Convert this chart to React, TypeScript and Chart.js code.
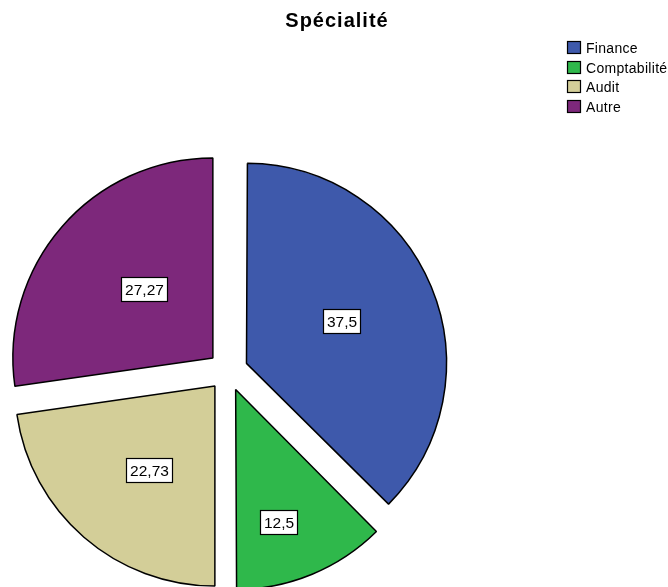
import React, { useEffect, useRef } from "react";
import { Chart, registerables } from "chart.js";

Chart.register(...registerables);

const chartTitle = "Spécialité";
const categories = ["Finance", "Comptabilité", "Audit", "Autre"];
const values = [37.5, 12.5, 22.73, 27.27];
const sliceColors = ["#3e59ab", "#2fb84b", "#d3ce98", "#7d287b"];
// label placement per slice: [fraction of radius, angle shift in degrees]
const labelPlacement = [
  [0.52, -1.4],
  [0.695, 4.6],
  [0.535, -2.6],
  [0.487, 3.9],
];

const EXPLODE = 80; // Chart.js translates by offset/4
const FONT = "'Liberation Sans', Arial, Helvetica, sans-serif";

const fmt = (v: number) => String(v).replace(".", ",");

const piePlugin = {
  id: "spssPie",
  afterDatasetsUpdate(chart: any) {
    const meta = chart.getDatasetMeta(0);
    meta.data.forEach((arc: any) => {
      const c = arc.endAngle - arc.startAngle;
      const fix = 1 - Math.sin(Math.min(Math.PI, c));
      arc.outerRadius = arc.outerRadius - (EXPLODE / 4) * fix;
    });
  },
  afterDraw(chart: any) {
    const ctx: CanvasRenderingContext2D = chart.ctx;
    const meta = chart.getDatasetMeta(0);
    ctx.save();
    // slice labels
    ctx.font = `15.5px ${FONT}`;
    meta.data.forEach((arc: any, i: number) => {
      const half = (arc.startAngle + arc.endAngle) / 2;
      const vx = arc.x + Math.cos(half) * (EXPLODE / 4);
      const vy = arc.y + Math.sin(half) * (EXPLODE / 4);
      const [frac, dAng] = labelPlacement[i];
      const a = half + (dAng * Math.PI) / 180;
      const r = frac * 200;
      const cx = vx + Math.cos(a) * r;
      const cy = vy + Math.sin(a) * r;
      const text = fmt(values[i]);
      const w = Math.round(ctx.measureText(text).width + 7);
      const h = 24;
      const bx = Math.round(cx - w / 2) + 0.5;
      const by = Math.round(cy - h / 2) + 0.5;
      ctx.fillStyle = "#ffffff";
      ctx.fillRect(bx, by, w, h);
      ctx.strokeStyle = "#000000";
      ctx.lineWidth = 1.2;
      ctx.strokeRect(bx, by, w, h);
      ctx.fillStyle = "#000000";
      ctx.textAlign = "center";
      ctx.textBaseline = "alphabetic";
      ctx.fillText(text, bx + w / 2, by + h / 2 + 5.5);
    });
    // title
    ctx.font = `bold 20px ${FONT}`;
    (ctx as any).letterSpacing = "1px";
    ctx.textAlign = "center";
    ctx.fillStyle = "#000000";
    ctx.fillText(chartTitle, 337, 26.5);
    (ctx as any).letterSpacing = "0px";
    // legend
    ctx.font = `14px ${FONT}`;
    (ctx as any).letterSpacing = "0.3px";
    ctx.textAlign = "left";
    ctx.lineWidth = 1.2;
    categories.forEach((cat, i) => {
      const y = 41 + i * 19.6;
      const yy = Math.round(y) + 0.5;
      ctx.fillStyle = sliceColors[i];
      ctx.fillRect(567.5, yy, 13, 12);
      ctx.strokeStyle = "#000000";
      ctx.strokeRect(567.5, yy, 13, 12);
      ctx.fillStyle = "#000000";
      ctx.fillText(cat, 586, yy + 11.5);
    });
    (ctx as any).letterSpacing = "0px";
    ctx.restore();
  },
};

export default function App() {
  const ref = useRef<HTMLCanvasElement>(null);
  useEffect(() => {
    if (!ref.current) return;
    const chart = new Chart(ref.current, {
      type: "pie",
      data: {
        labels: categories,
        datasets: [
          {
            data: values,
            backgroundColor: sliceColors,
            borderColor: "#000000",
            borderWidth: 1.5,
            offset: EXPLODE,
          },
        ],
      },
      options: {
        responsive: false,
        animation: false,
        radius: 200,
        layout: { padding: { left: 0, right: 212, top: 155, bottom: 0 } },
        plugins: {
          legend: { display: false },
          title: { display: false },
          tooltip: { enabled: false },
        },
      } as any,
      plugins: [piePlugin],
    });
    return () => chart.destroy();
  }, []);
  return (
    <div style={{ position: "fixed", left: 0, top: 0, width: 668, height: 587, background: "#fff" }}>
      <canvas ref={ref} width={668} height={587} />
    </div>
  );
}
